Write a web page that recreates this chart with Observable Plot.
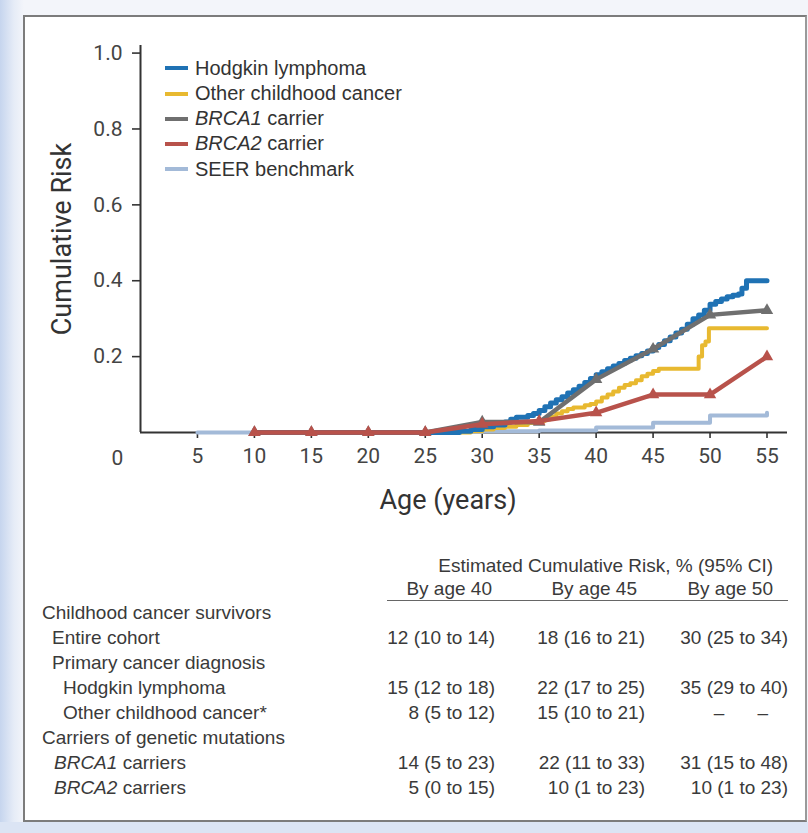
<!DOCTYPE html>
<html>
<head>
<meta charset="utf-8">
<script src="https://cdn.jsdelivr.net/npm/d3@7"></script>
<script src="https://cdn.jsdelivr.net/npm/@observablehq/plot@0.6"></script>
<style>
  html, body { margin: 0; padding: 0; }
  body {
    width: 808px; height: 833px; overflow: hidden; position: relative;
    background: linear-gradient(to right, #c6d5ee 0px, #e6ecf7 14px, #f3f5fa 24px);
    font-family: "Liberation Sans", Arial, sans-serif;
  }
  #bottomstrip { position: absolute; left: 0; top: 822px; width: 808px; height: 11px; background: #dbe4f4; }
  #box {
    position: absolute; left: 23px; top: 15px; width: 780px; height: 803px;
    border: 2px solid #7c7c7c; border-right-color: #9a9a9a; background: #fff;
  }
  #chart svg { display: block; }
  #legend { position: absolute; left: 140px; top: 38.5px; font-size: 20px; color: #333; }
  #legend .row { height: 25.3px; line-height: 25.3px; white-space: nowrap; }
  #legend .sw { display: inline-block; width: 23px; height: 4px; vertical-align: middle; margin-right: 7px; position: relative; top: -1px; }
  table { border-collapse: collapse; table-layout: fixed; margin-left: 17px; margin-top: 36.5px; color: #3a3a3a; font-size: 19px; }
  td, th { padding: 0; font-weight: normal; white-space: nowrap; }
  thead tr { height: 23px; line-height: 23px; }
  tbody tr { height: 25px; line-height: 25px; }
  td.v { text-align: right; }
  th.h { text-align: right; }
  tr.hdr2 th.h { border-bottom: 1.5px solid #666; }
  i { font-style: italic; }
</style>
</head>
<body>
<div id="bottomstrip"></div>
<div id="box">
  <div id="chart"></div>
  <div id="legend"></div>
  <div id="tablewrap"></div>
</div>
<script>
// ---------- data ----------
const seriesNames = ["Hodgkin lymphoma", "Other childhood cancer", "BRCA1 carrier", "BRCA2 carrier", "SEER benchmark"];
const seriesColors = ["#1f72b4", "#e8b930", "#6f6f6f", "#b8524b", "#a3bad8"];

// Hodgkin lymphoma (step curve): [age, cumulative risk]
const hodgkin = [[10,0],[28,0.003],[29,0.008],[30,0.015],[31,0.02],[32,0.028],[32.5,0.035],[33,0.04],[34,0.045],[34.5,0.05],[35,0.058],[35.5,0.068],[36,0.078],[36.5,0.086],[37,0.094],[37.5,0.104],[38,0.113],[38.5,0.122],[39,0.132],[39.5,0.142],[40,0.152],[40.5,0.16],[41,0.168],[41.5,0.175],[42,0.182],[42.5,0.19],[43,0.196],[43.5,0.202],[44,0.208],[44.5,0.215],[45,0.224],[45.5,0.232],[46,0.242],[46.5,0.252],[47,0.262],[47.5,0.272],[48,0.285],[48.5,0.3],[49,0.31],[49.5,0.322],[50,0.338],[50.5,0.345],[51,0.352],[51.5,0.358],[52,0.362],[52.5,0.365],[52.8,0.38],[53.2,0.4],[55,0.4]];

// Other childhood cancer (step curve)
const otherCancer = [[10,0],[29,0.003],[30,0.008],[31,0.012],[32,0.015],[33,0.02],[34,0.025],[35,0.03],[35.5,0.035],[36,0.042],[36.5,0.05],[37,0.056],[37.5,0.062],[38,0.066],[39,0.072],[39.5,0.075],[40,0.082],[40.5,0.092],[41,0.1],[41.5,0.108],[42,0.118],[42.5,0.125],[43,0.13],[43.5,0.138],[44,0.148],[44.5,0.155],[45,0.162],[45.5,0.168],[49,0.2],[49.3,0.23],[49.6,0.24],[49.9,0.275],[55,0.275]];

// Carriers (estimates at 5-year ages)
const carrierAges = [10, 15, 20, 25, 30, 35, 40, 45, 50, 55];
const brca1 = [0, 0, 0, 0, 0.028, 0.027, 0.14, 0.22, 0.31, 0.322];
const brca2 = [0, 0, 0, 0, 0.022, 0.03, 0.052, 0.1, 0.1, 0.2];

// SEER benchmark (step curve)
const seer = [[5,0],[25,0.001],[30,0.003],[35,0.005],[40,0.013],[45,0.026],[50,0.045],[55,0.052]];

const xTicks = [5, 10, 15, 20, 25, 30, 35, 40, 45, 50, 55];
const yTicks = [0.2, 0.4, 0.6, 0.8, 1.0];

// table
const tableHeader = "Estimated Cumulative Risk, % (95% CI)";
const tableCols = ["By age 40", "By age 45", "By age 50"];
const tableRows = [
  {label: "Childhood cancer survivors", indent: 0, vals: null},
  {label: "Entire cohort", indent: 10, vals: ["12 (10 to 14)", "18 (16 to 21)", "30 (25 to 34)"]},
  {label: "Primary cancer diagnosis", indent: 10, vals: null},
  {label: "Hodgkin lymphoma", indent: 21, vals: ["15 (12 to 18)", "22 (17 to 25)", "35 (29 to 40)"]},
  {label: "Other childhood cancer*", indent: 21, vals: ["8 (5 to 12)", "15 (10 to 21)", "DASH"]},
  {label: "Carriers of genetic mutations", indent: 0, vals: null},
  {label: "<i>BRCA1</i> carriers", indent: 12, vals: ["14 (5 to 23)", "22 (11 to 33)", "31 (15 to 48)"]},
  {label: "<i>BRCA2</i> carriers", indent: 12, vals: ["5 (0 to 15)", "10 (1 to 23)", "10 (1 to 23)"]}
];

// ---------- chart ----------
const tri = (ys) => carrierAges.map((a, i) => ({age: a, risk: ys[i]}));
const pts = (arr) => arr.map(([a, r]) => ({age: a, risk: r}));

const chart = Plot.plot({
  width: 780, height: 500,
  marginLeft: 115, marginRight: 18, marginTop: 28, marginBottom: 85,
  x: {domain: [0, 56.8], axis: null},
  y: {domain: [0, 1.02], axis: null},
  style: {fontFamily: "Roboto, 'Liberation Sans', sans-serif", background: "transparent", color: "#333"},
  marks: [
    Plot.axisY(yTicks, {label: null, tickSize: 8, tickPadding: 10, tickFormat: d3.format(".1f"), fontSize: 21, stroke: "#333", fill: "#444", strokeWidth: 1.6}),
    Plot.axisX(xTicks, {label: null, tickSize: 6, tickPadding: 10, fontSize: 21, stroke: "#333", fill: "#444", strokeWidth: 1.6}),
    Plot.ruleX([0], {stroke: "#333", strokeWidth: 2}),
    Plot.ruleY([0], {stroke: "#333", strokeWidth: 2}),
    Plot.text(["0"], {x: 0, y: 0, dx: -23, dy: 26, fontSize: 21, fill: "#444"}),
    Plot.text(["Age (years)"], {frameAnchor: "bottom", textAnchor: "middle", lineAnchor: "middle", dx: -16, dy: 68, fontSize: 27, fill: "#333"}),
    Plot.text(["Cumulative Risk"], {frameAnchor: "left", textAnchor: "middle", lineAnchor: "middle", rotate: -90, dx: -78, fontSize: 27, fill: "#333"}),
    Plot.line(pts(seer), {x: "age", y: "risk", curve: "step-after", stroke: seriesColors[4], strokeWidth: 4}),
    Plot.line(pts(otherCancer), {x: "age", y: "risk", curve: "step-after", stroke: seriesColors[1], strokeWidth: 4}),
    Plot.line(pts(hodgkin), {x: "age", y: "risk", curve: "step-after", stroke: seriesColors[0], strokeWidth: 5}),
    Plot.line(tri(brca1), {x: "age", y: "risk", stroke: seriesColors[2], strokeWidth: 4.5}),
    Plot.dot(tri(brca1), {x: "age", y: "risk", symbol: "triangle", r: 4.6, fill: seriesColors[2]}),
    Plot.line(tri(brca2), {x: "age", y: "risk", stroke: seriesColors[3], strokeWidth: 4.5}),
    Plot.dot(tri(brca2), {x: "age", y: "risk", symbol: "triangle", r: 4.6, fill: seriesColors[3]})
  ]
});
document.getElementById("chart").appendChild(chart);

// ---------- legend ----------
const legendLabels = ["Hodgkin lymphoma", "Other childhood cancer", "<i>BRCA1</i> carrier", "<i>BRCA2</i> carrier", "SEER benchmark"];
document.getElementById("legend").innerHTML = legendLabels.map((l, i) =>
  `<div class="row"><span class="sw" style="background:${seriesColors[i]}"></span>${l}</div>`).join("");

// ---------- table ----------
const colW = [345, 108, 150, 143];
const hdrPad = [3, 8, 15];
let html = `<table><colgroup>${colW.map(w => `<col style="width:${w}px">`).join("")}</colgroup>`;
html += `<thead><tr><th></th><th colspan="3" class="h" style="padding-right:15px">${tableHeader}</th></tr>`;
html += `<tr class="hdr2"><th></th>${tableCols.map((c, i) => `<th class="h" style="padding-right:${hdrPad[i]}px">${c}</th>`).join("")}</tr></thead><tbody>`;
for (const r of tableRows) {
  html += `<tr><td style="padding-left:${r.indent}px;text-align:left">${r.label}</td>`;
  if (r.vals) {
    html += r.vals.map(v => v === "DASH"
      ? `<td class="v" style="padding-right:20px"><span>–</span><span style="display:inline-block;width:33px"></span><span>–</span></td>`
      : `<td class="v">${v}</td>`).join("");
  } else {
    html += `<td></td><td></td><td></td>`;
  }
  html += `</tr>`;
}
html += `</tbody></table>`;
document.getElementById("tablewrap").innerHTML = html;
</script>
</body>
</html>
